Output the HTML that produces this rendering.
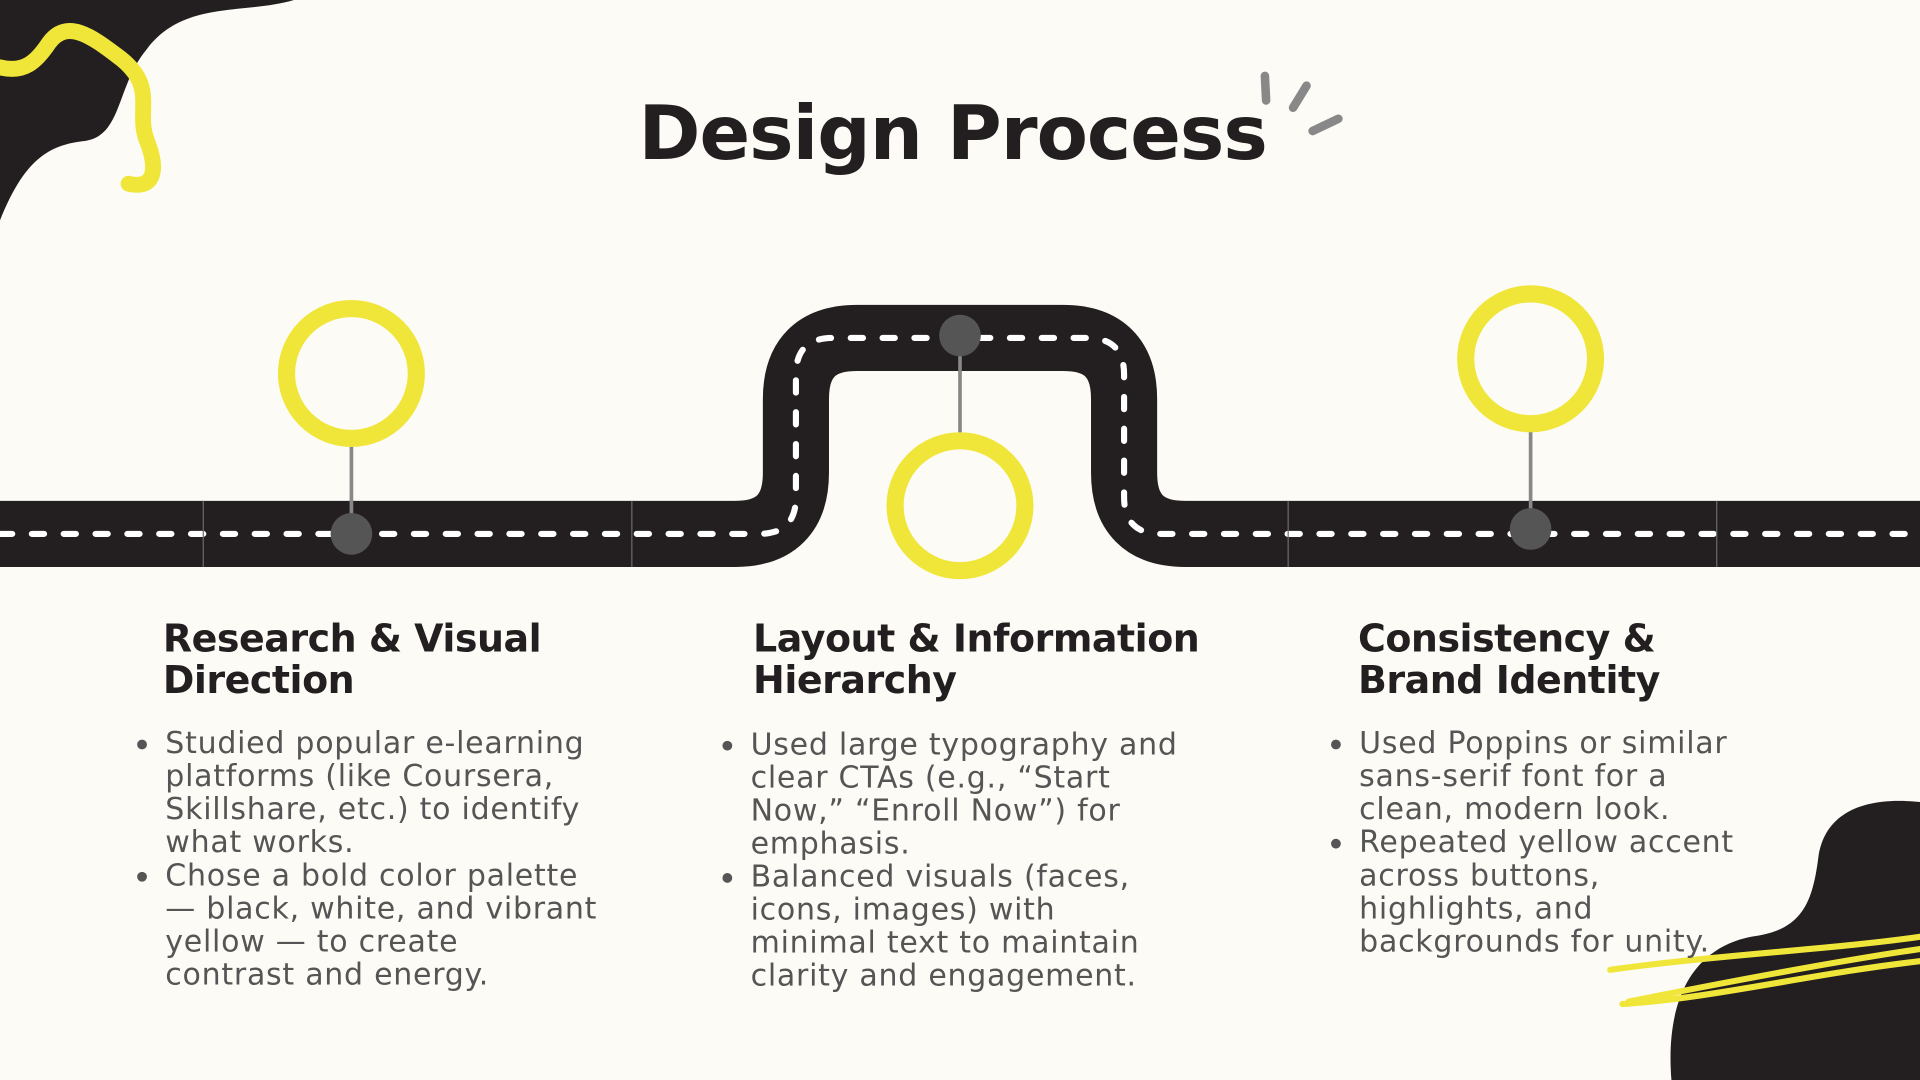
<!DOCTYPE html>
<html><head><meta charset="utf-8"><style>
html,body{margin:0;padding:0;width:1920px;height:1080px;overflow:hidden;background:#fdfbf6}
#s{position:absolute;left:0;top:0;width:1568px;height:882px;transform:scale(1.22449);transform-origin:0 0;font-family:"Liberation Sans",sans-serif}
.h{position:absolute;font-family:"DejaVu Sans",sans-serif;font-weight:bold;font-size:31px;line-height:34px;color:#231f20;letter-spacing:-0.4px;white-space:nowrap}
.b{position:absolute;font-family:"DejaVu Sans",sans-serif;font-size:24.5px;line-height:27px;color:#555;margin:0;padding:0 0 0 26px;list-style:none;letter-spacing:0.6px;white-space:nowrap}
.b li{position:relative}
.b li:before{content:"";position:absolute;left:-23px;top:11px;width:8px;height:8px;border-radius:50%;background:#555}
</style></head><body>
<div id="s">
<svg width="1568" height="882" style="position:absolute;left:0;top:0">
 <path d="M0,0 L240,0 C200,12 150,0 120,40 C95,70 100,110 70,115 C40,118 20,130 0,180 Z" fill="#231f20"/>
 <path d="M0,55 C20,60 30,50 40,35 C55,15 75,30 95,45 C130,70 110,90 120,115 C130,140 125,155 105,150" fill="none" stroke="#f0e63a" stroke-width="13" stroke-linecap="round"/>
 <g stroke="#888" stroke-width="7" stroke-linecap="round">
  <line x1="1033" y1="62" x2="1034" y2="82"/><line x1="1067" y1="70" x2="1056" y2="88"/><line x1="1093" y1="97" x2="1072" y2="107"/>
 </g>
 <path d="M0,436 L600,436 Q650,436 650,386 L650,326 Q650,276 700,276 L868,276 Q918,276 918,326 L918,386 Q918,436 968,436 L1568,436" fill="none" stroke="#231f20" stroke-width="54"/>
 <path d="M0,436 L620,436 Q650,436 650,406 L650,306 Q650,276 680,276 L888,276 Q918,276 918,306 L918,406 Q918,436 948,436 L1568,436" fill="none" stroke="#fff" stroke-width="5" stroke-dasharray="10 16" stroke-linecap="round"/>
 <g stroke="#6a6a6a" stroke-width="1">
  <line x1="166" y1="409" x2="166" y2="463"/><line x1="516" y1="409" x2="516" y2="463"/><line x1="1052" y1="409" x2="1052" y2="463"/><line x1="1402" y1="409" x2="1402" y2="463"/>
 </g>
 <g stroke="#888" stroke-width="3">
  <line x1="287" y1="358" x2="287" y2="436"/><line x1="784" y1="274" x2="784" y2="360"/><line x1="1250" y1="346" x2="1250" y2="432"/>
 </g>
 <g fill="none" stroke="#f0e63a" stroke-width="14">
  <circle cx="287" cy="305" r="53"/>
  <circle cx="784" cy="413" r="53"/>
  <circle cx="1250" cy="293" r="53"/>
 </g>
 <g fill="#555">
  <circle cx="287" cy="436" r="17"/>
  <circle cx="784" cy="274" r="17"/>
  <circle cx="1250" cy="432" r="17"/>
 </g>
 <path d="M1568,655 C1520,650 1490,665 1485,700 C1480,740 1470,760 1430,765 C1380,775 1360,820 1365,882 L1568,882 Z" fill="#231f20"/>
 <path d="M1315,792 C1400,780 1500,775 1568,765 M1330,818 C1420,800 1500,785 1568,775 M1325,820 C1400,815 1480,795 1568,785" fill="none" stroke="#f0e63a" stroke-width="5" stroke-linecap="round"/>
</svg>
<div style="position:absolute;left:477px;top:70px;width:602px;text-align:center;font-family:'DejaVu Sans',sans-serif;font-weight:bold;font-size:61px;line-height:80px;color:#231f20;letter-spacing:-0.8px">Design Process</div>
<div class="h" style="left:133px;top:505px">Research &amp; Visual<br>Direction</div>
<ul class="b" style="left:109px;top:593px">
<li>Studied popular e-learning<br>platforms (like Coursera,<br>Skillshare, etc.) to identify<br>what works.</li>
<li>Chose a bold color palette<br>— black, white, and vibrant<br>yellow — to create<br>contrast and energy.</li></ul>
<div class="h" style="left:615px;top:505px">Layout &amp; Information<br>Hierarchy</div>
<ul class="b" style="left:587px;top:594px">
<li>Used large typography and<br>clear CTAs (e.g., “Start<br>Now,” “Enroll Now”) for<br>emphasis.</li>
<li>Balanced visuals (faces,<br>icons, images) with<br>minimal text to maintain<br>clarity and engagement.</li></ul>
<div class="h" style="left:1109px;top:505px">Consistency &amp;<br>Brand Identity</div>
<ul class="b" style="left:1084px;top:593px">
<li>Used Poppins or similar<br>sans-serif font for a<br>clean, modern look.</li>
<li>Repeated yellow accent<br>across buttons,<br>highlights, and<br>backgrounds for unity.</li></ul>
</div>
</body></html>
